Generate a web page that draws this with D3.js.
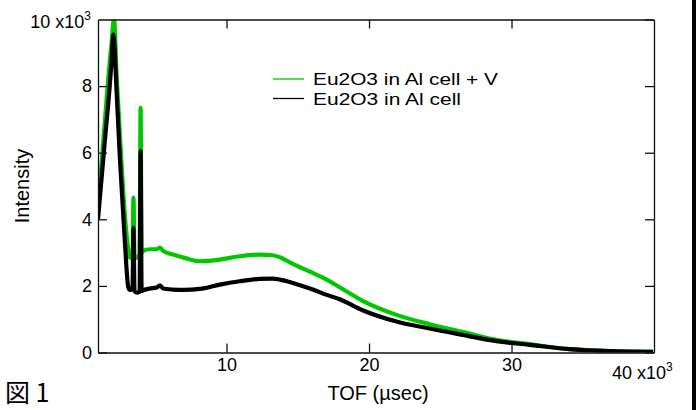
<!DOCTYPE html>
<html>
<head>
<meta charset="utf-8">
<script src="https://cdn.jsdelivr.net/npm/d3@7"></script>
<style>
  html, body { margin: 0; padding: 0; background: #fff; }
  svg text { font-family: "Liberation Sans", Arial, Helvetica, sans-serif; fill: #000; }
</style>
</head>
<body>
<div id="tof-chart"></div>
<script>
// TOF axis in units of 10^3 usec, intensity in units of 10^3 counts
const tof = [0.98, 1.47, 1.82, 1.94, 2.05, 2.10, 2.29, 2.52, 2.87, 3.10, 3.22, 3.40, 3.47, 3.54, 3.69, 3.90, 3.97, 4.04, 4.16, 4.63, 5.10, 5.33, 5.55, 6.24, 7.00, 8.13, 9.53, 10.93, 12.33, 13.24, 13.74, 14.65, 16.05, 17.03, 17.94, 19.55, 21.93, 24.25, 26.56, 28.94, 31.25, 34.06, 36.86, 39.94];
const withV = [4.3, 7.0, 8.8, 9.3, 9.9, 10.05, 8.3, 6.5, 4.1, 3.1, 2.85, 2.9, 4.65, 2.9, 2.85, 2.95, 7.35, 3.0, 3.05, 3.1, 3.1, 3.15, 3.05, 2.94, 2.85, 2.74, 2.79, 2.89, 2.94, 2.92, 2.86, 2.66, 2.39, 2.19, 1.96, 1.55, 1.13, 0.85, 0.62, 0.38, 0.25, 0.1, 0.04, 0.02];
const cellOnly = [4.0, 6.4, 8.1, 8.8, 9.55, 9.4, 7.8, 5.8, 3.3, 1.97, 1.88, 1.9, 3.74, 1.85, 1.8, 1.82, 6.05, 1.85, 1.87, 1.92, 1.95, 2.02, 1.92, 1.89, 1.88, 1.91, 2.04, 2.14, 2.21, 2.22, 2.19, 2.09, 1.89, 1.73, 1.6, 1.27, 0.93, 0.72, 0.53, 0.34, 0.23, 0.1, 0.04, 0.02];

const seriesNames = ['Eu2O3 in Al cell + V', 'Eu2O3 in Al cell'];
const seriesColors = ['#00c800', '#000000'];
const xTicks = [10, 20, 30];
const yTicks = [0, 2, 4, 6, 8];

const cfg = {
  width: 696,
  height: 410,
  margin: { top: 19.5, right: 42, bottom: 57.5, left: 98 },
};

const svg = d3
  .select('#tof-chart')
  .append('svg')
  .attr('width', cfg.width)
  .attr('height', cfg.height);

svg.append('rect').attr('width', cfg.width).attr('height', cfg.height).attr('fill', '#fff');

const x0 = cfg.margin.left;
const x1 = cfg.width - cfg.margin.right;
const y0 = cfg.height - cfg.margin.bottom;
const y1 = cfg.margin.top;

/* ---------------- SCALES ---------------- */
const xScale = d3.scaleLinear().domain([0.98, 40]).range([x0, x1]);
const yScale = d3.scaleLinear().domain([0, 10]).range([y0, y1]);

svg
  .append('defs')
  .append('clipPath')
  .attr('id', 'plot-clip')
  .append('rect')
  .attr('x', x0)
  .attr('y', y1)
  .attr('width', x1 - x0)
  .attr('height', y0 - y1);

/* ---------------- SERIES ---------------- */
const line = d3
  .line()
  .curve(d3.curveMonotoneX)
  .x((d) => xScale(d[0]))
  .y((d) => yScale(d[1]));

const plot = svg.append('g').attr('clip-path', 'url(#plot-clip)');
[withV, cellOnly].forEach((vals, i) => {
  plot
    .append('path')
    .datum(tof.map((t, j) => [t, vals[j]]))
    .attr('d', line)
    .attr('fill', 'none')
    .attr('stroke', seriesColors[i])
    .attr('stroke-width', 4.2)
    .attr('stroke-linejoin', 'round');
});

/* ---------------- AXES ---------------- */
function styleAxis(g) {
  g.selectAll('path, line').attr('stroke', '#111').attr('stroke-width', 1.3);
  g.selectAll('text').attr('font-size', 18).attr('fill', '#000').style('font-family', '"Liberation Sans", Arial, sans-serif');
}

svg
  .append('g')
  .attr('transform', `translate(0,${y0})`)
  .call(d3.axisBottom(xScale).tickValues(xTicks).tickSizeInner(-9).tickSizeOuter(0).tickPadding(6))
  .call(styleAxis);

svg
  .append('g')
  .attr('transform', `translate(0,${y1})`)
  .call(d3.axisTop(xScale).tickValues(xTicks).tickSizeInner(-9).tickSizeOuter(0).tickFormat(''))
  .call(styleAxis);

svg
  .append('g')
  .attr('transform', `translate(${x0},0)`)
  .call(d3.axisLeft(yScale).tickValues(yTicks).tickSizeInner(-9).tickSizeOuter(0).tickPadding(6))
  .call(styleAxis);

svg
  .append('g')
  .attr('transform', `translate(${x1},0)`)
  .call(d3.axisRight(yScale).tickValues(yTicks.concat([10])).tickSizeInner(-9).tickSizeOuter(0).tickFormat(''))
  .call(styleAxis);

// scale labels with exponent
const topLab = svg.append('text').attr('x', 91).attr('y', 28).attr('text-anchor', 'end').attr('font-size', 18);
topLab.append('tspan').text('10 x10');
topLab.append('tspan').attr('font-size', 12).attr('dy', -8).text('3');

const rightLab = svg.append('text').attr('x', 612).attr('y', 379).attr('font-size', 18);
rightLab.append('tspan').text('40 x10');
rightLab.append('tspan').attr('font-size', 12).attr('dy', -8).text('3');

/* ---------------- TITLES ---------------- */
svg
  .append('text')
  .attr('transform', `translate(29,${(y0 + y1) / 2}) rotate(-90)`)
  .attr('text-anchor', 'middle')
  .attr('font-size', 20)
  .text('Intensity');

svg
  .append('text')
  .attr('x', 378)
  .attr('y', 400)
  .attr('text-anchor', 'middle')
  .attr('font-size', 20)
  .text('TOF (\u00b5sec)');

svg
  .append('text')
  .attr('x', 5)
  .attr('y', 402)
  .attr('font-size', 25)
  .style('font-family', '"Noto Sans CJK JP", sans-serif')
  .text('図 1');

/* ---------------- LEGEND ---------------- */
// the original legend text is wide and tightly stacked: keep its width with textLength
const legendWidths = [185, 148];
const legend = svg.append('g').attr('transform', 'translate(273,79)');
seriesNames.forEach((name, i) => {
  const row = legend.append('g').attr('transform', `translate(0,${i * 19.5})`);
  row.append('line').attr('x1', 0).attr('x2', 31).attr('stroke', seriesColors[i]).attr('stroke-width', 1.3);
  row
    .append('text')
    .attr('x', 40)
    .attr('y', 6)
    .attr('font-size', 16.5)
    .attr('textLength', legendWidths[i])
    .attr('lengthAdjust', 'spacingAndGlyphs')
    .text(name);
});

// dark edge on the right side of the scan
svg.append('rect').attr('x', 692).attr('y', 0).attr('width', 4).attr('height', cfg.height).attr('fill', '#000');
</script>
</body>
</html>
